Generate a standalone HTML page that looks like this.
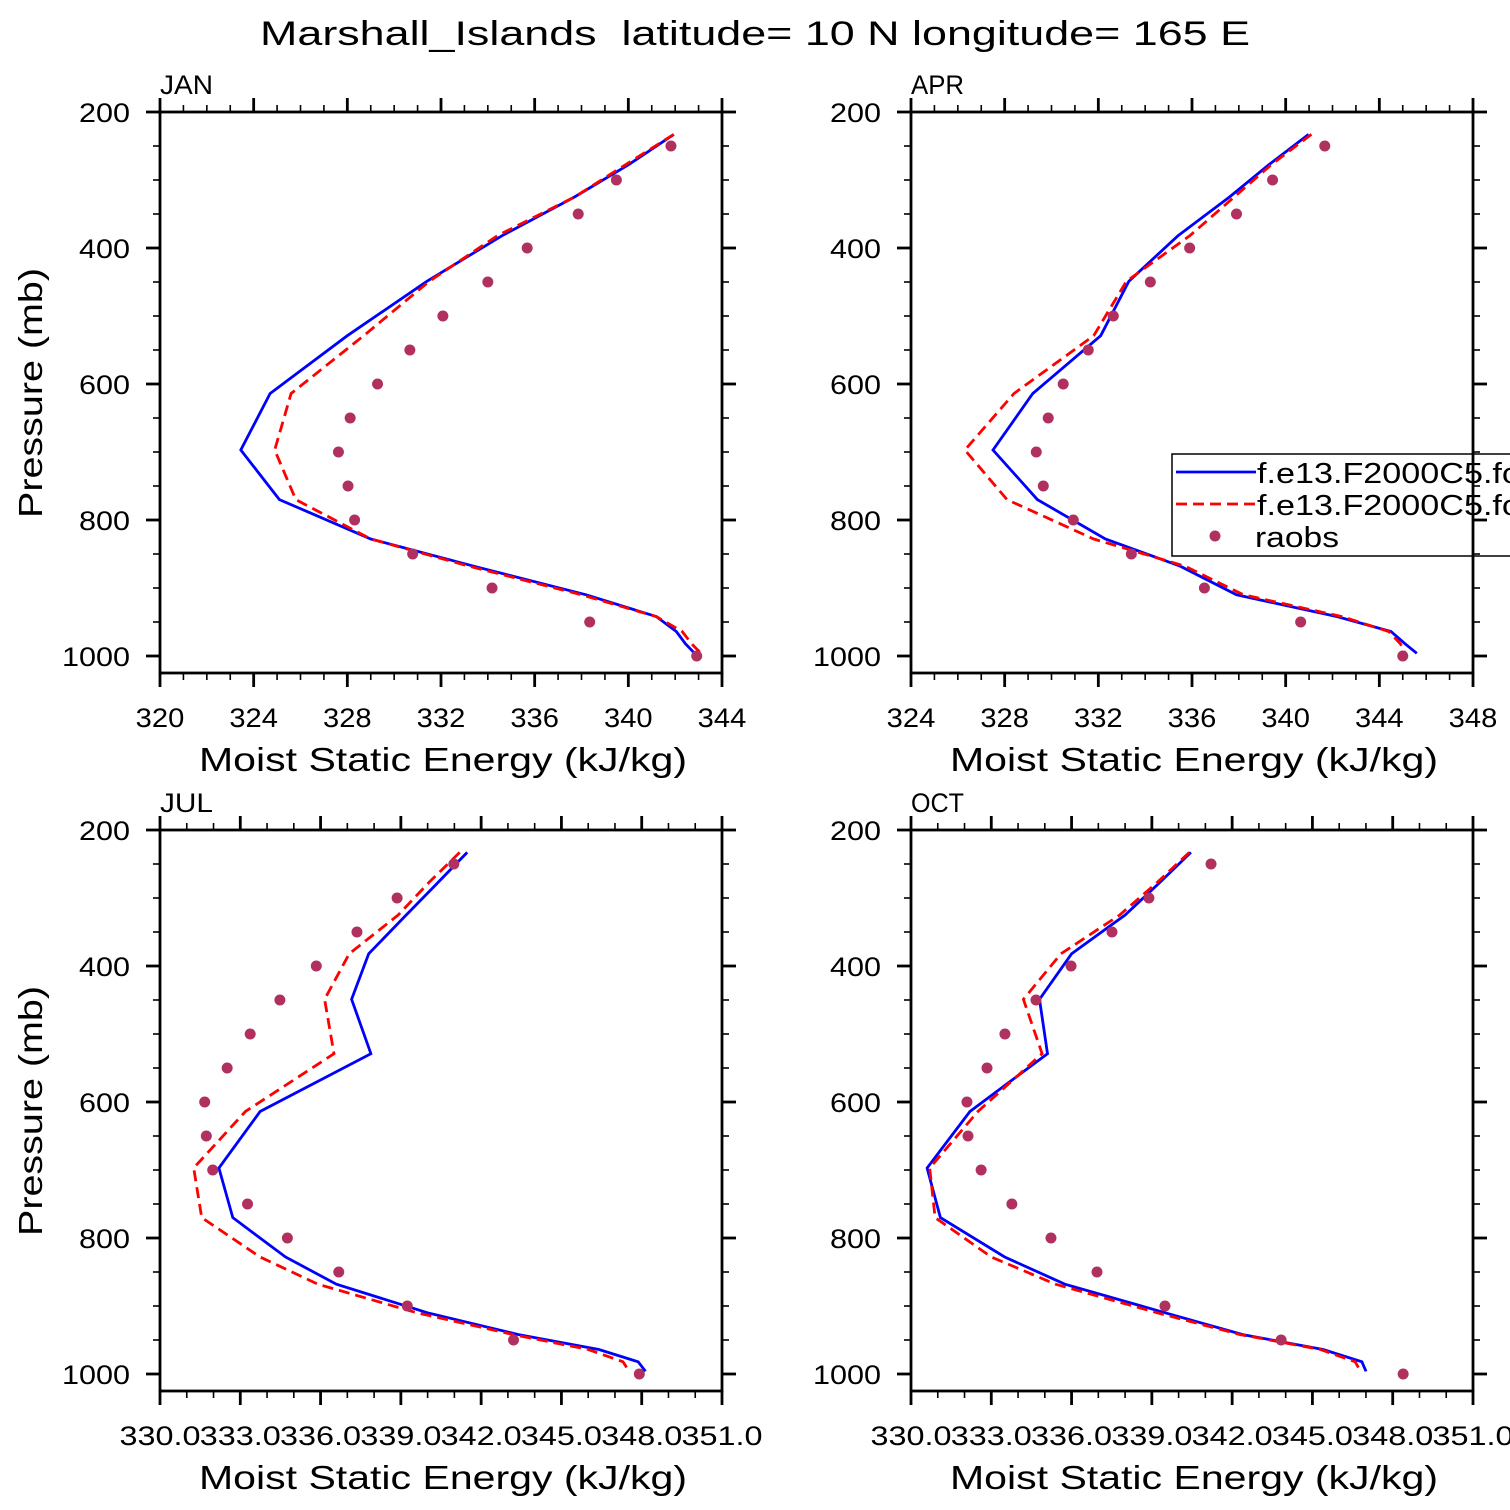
<!DOCTYPE html>
<html>
<head>
<meta charset="utf-8">
<style>
html,body{margin:0;padding:0;background:#fff;width:1510px;height:1510px;overflow:hidden;}
svg{display:block;}
text{font-family:"Liberation Sans",sans-serif;fill:#000;}
</style>
</head>
<body>
<svg id="chart" width="1510" height="1510" viewBox="0 0 1510 1510" xmlns="http://www.w3.org/2000/svg">
<text x="260" y="45" font-size="34" textLength="990" lengthAdjust="spacingAndGlyphs" xml:space="preserve">Marshall_Islands  latitude= 10 N longitude= 165 E</text>
</svg>
<script>
// model pressure levels (mb) and raob levels
const modelLevels = [233,277,325,382,449,529,614,697,770,828,868,910,942,964,982,996];
const obsLevels = [250,300,350,400,450,500,550,600,650,700,750,800,850,900,950,1000];
const pressureTicks = [200,400,600,800,1000];

const janTicks = [320,324,328,332,336,340,344];
const janBlue = [341.94,340.03,337.7,334.6,331.4,328.0,324.7,323.45,325.1,329.0,333.4,338.2,341.2,342.05,342.44,342.83];
const janRed  = [341.94,339.9,337.7,334.4,331.5,328.7,325.6,324.9,325.8,329.0,333.2,338.0,341.2,342.3,342.7,343.1];
const janObs  = [341.82,339.49,337.86,335.68,334.0,332.08,330.67,329.29,328.12,327.62,328.03,328.31,330.79,334.18,338.35,342.92];

const aprTicks = [324,328,332,336,340,344,348];
const aprBlue = [340.98,339.3,337.6,335.4,333.3,332.1,329.2,327.5,329.4,332.3,335.5,337.9,342.2,344.5,345.1,345.6];
const aprRed  = [341.1,339.4,337.8,335.9,333.2,331.8,328.4,326.3,328.1,331.8,335.7,338.2,342.4,344.4,344.9,345.1];
const aprObs  = [341.67,339.44,337.9,335.9,334.22,332.64,331.57,330.5,329.86,329.35,329.65,330.93,333.41,336.53,340.64,345.0];

const julTicks = [330,333,336,339,342,345,348,351];
const julBlue = [341.48,340.39,339.2,337.8,337.16,337.88,333.74,332.2,332.72,334.69,336.59,340.0,343.4,346.4,347.87,348.14];
const julRed  = [341.2,340.05,338.9,337.07,336.15,336.5,333.19,331.26,331.56,333.74,335.9,339.6,343.2,346.0,347.3,347.53];
const julObs  = [340.98,338.86,337.36,335.84,334.48,333.37,332.51,331.67,331.73,331.97,333.27,334.76,336.68,339.24,343.21,347.91];

const octTicks = [330,333,336,339,342,345,348,351];
const octBlue = [340.46,339.3,338.0,336.0,334.8,335.1,332.2,330.6,331.1,333.5,335.75,339.5,342.4,345.4,346.85,347.0];
const octRed  = [340.4,339.2,337.8,335.6,334.2,334.9,332.5,330.7,330.9,333.0,335.4,339.2,342.3,345.3,346.6,346.8];
const octObs  = [341.21,338.89,337.51,335.98,334.67,333.51,332.84,332.09,332.13,332.62,333.77,335.23,336.95,339.49,343.83,348.39];

const NS = "http://www.w3.org/2000/svg";
const svg = document.getElementById('chart');
function el(tag, attrs, parent){
  const e = document.createElementNS(NS, tag);
  for (const k in attrs) e.setAttribute(k, attrs[k]);
  (parent||svg).appendChild(e);
  return e;
}

function panel(cfg){
  const g = el('g', {});
  
  
  const L = cfg.x0, R = cfg.x0 + 562, T = cfg.y0, B = cfg.y0 + 561;
  const xmin = cfg.ticks[0], xmax = cfg.ticks[cfg.ticks.length-1];
  const sx = v => L + (v - xmin) / (xmax - xmin) * (R - L);
  const sy = p => T + (p - 200) * 0.68;

  const pts = arr => arr.map((v,i)=> sx(v).toFixed(1)+','+sy(modelLevels[i]).toFixed(1)).join(' ');
  const blue = el('polyline', {points: pts(cfg.blue), fill:'none', stroke:'#0000ff', 'stroke-width':2.8}, g);
  
  
  const red = el('polyline', {points: pts(cfg.red), fill:'none', stroke:'#ff0000', 'stroke-width':2.8, 'stroke-dasharray':'11,6'}, g);
  
  
  cfg.obs.forEach((v,i)=>{
    const c = el('circle', {cx: sx(v), cy: sy(obsLevels[i]), r:5.5, fill:'#b03060'}, g);
    
    
  });

  if (cfg.legend){
    const lg = el('g', {}, g);
    
    
    el('rect', {x:1172, y:454, width:400, height:102, fill:'#fff', stroke:'#000', 'stroke-width':1.5}, lg);
    el('line', {x1:1176, y1:472, x2:1256, y2:472, stroke:'#0000ff', 'stroke-width':2.8}, lg);
    el('line', {x1:1176, y1:504, x2:1256, y2:504, stroke:'#ff0000', 'stroke-width':2.8, 'stroke-dasharray':'11,6'}, lg);
    el('circle', {cx:1215, cy:536, r:5.5, fill:'#b03060'}, lg);
    const t1 = el('text', {x:1257, y:483, 'font-size':29, textLength:281, lengthAdjust:'spacingAndGlyphs'}, lg); t1.textContent = 'f.e13.F2000C5.fc5';
    
    
    const t2 = el('text', {x:1257, y:515, 'font-size':29, textLength:281, lengthAdjust:'spacingAndGlyphs'}, lg); t2.textContent = 'f.e13.F2000C5.fc5';
    
    
    const t3 = el('text', {x:1255, y:547, 'font-size':29, textLength:84, lengthAdjust:'spacingAndGlyphs'}, lg); t3.textContent = 'raobs';
    
    
  }

  const fr = el('rect', {x:L, y:T, width:R-L, height:B-T, fill:'none', stroke:'#000', 'stroke-width':2.8}, g);
  
  

  const step = cfg.ticks[1]-cfg.ticks[0];
  for (let v = xmin; v <= xmax + 1e-6; v += 1){
    const major = Math.abs(((v - xmin) / step) - Math.round((v - xmin)/step)) < 1e-6;
    const len = major ? 14 : 7, w = major ? 2.8 : 1.6;
    el('line', {x1:sx(v), y1:B, x2:sx(v), y2:B+len, stroke:'#000', 'stroke-width':w}, g);
    el('line', {x1:sx(v), y1:T, x2:sx(v), y2:T-len, stroke:'#000', 'stroke-width':w}, g);
  }
  cfg.ticks.forEach(v=>{
    const s = cfg.fmt(v);
    const t = el('text', {x:sx(v), y:B+54, 'font-size':27, 'text-anchor':'middle', textLength:s.length*16.2, lengthAdjust:'spacingAndGlyphs'}, g);
    t.textContent = s;
    
    
  });
  for (let p = 200; p <= 1025; p += 50){
    const major = p % 200 === 0;
    const len = major ? 14 : 7, w = major ? 2.8 : 1.6;
    el('line', {x1:L, y1:sy(p), x2:L-len, y2:sy(p), stroke:'#000', 'stroke-width':w}, g);
    el('line', {x1:R, y1:sy(p), x2:R+len, y2:sy(p), stroke:'#000', 'stroke-width':w}, g);
  }
  pressureTicks.forEach(p=>{
    const s = String(p);
    const t = el('text', {x:L-30, y:sy(p)+10, 'font-size':27, 'text-anchor':'end', textLength:s.length*17, lengthAdjust:'spacingAndGlyphs'}, g);
    t.textContent = s;
    
    
  });
  const mt = el('text', {x:L, y:T-18, 'font-size':27, textLength:53, lengthAdjust:'spacingAndGlyphs'}, g);
  mt.textContent = cfg.label;
  
  
  const xt = el('text', {x:L+39, y:B+98, 'font-size':33, textLength:488, lengthAdjust:'spacingAndGlyphs'}, g);
  xt.textContent = 'Moist Static Energy (kJ/kg)';
  
  
  if (cfg.ytitle){
    const yc = T + 281;
    const yt = el('text', {x:42, y:yc, 'font-size':33, 'text-anchor':'middle', textLength:250, lengthAdjust:'spacingAndGlyphs', transform:'rotate(-90 42 '+yc+')'}, g);
    yt.textContent = 'Pressure (mb)';
    
    
  }
}

const intFmt = v => String(v);
const decFmt = v => v.toFixed(1);
panel({id:'jan', label:'JAN', x0:160, y0:112, ticks:janTicks, blue:janBlue, red:janRed, obs:janObs, fmt:intFmt, ytitle:true});
panel({id:'apr', label:'APR', x0:911, y0:112, ticks:aprTicks, blue:aprBlue, red:aprRed, obs:aprObs, fmt:intFmt, ytitle:false, legend:true});
panel({id:'jul', label:'JUL', x0:160, y0:830, ticks:julTicks, blue:julBlue, red:julRed, obs:julObs, fmt:decFmt, ytitle:true});
panel({id:'oct', label:'OCT', x0:911, y0:830, ticks:octTicks, blue:octBlue, red:octRed, obs:octObs, fmt:decFmt, ytitle:false});
</script>
</body>
</html>
